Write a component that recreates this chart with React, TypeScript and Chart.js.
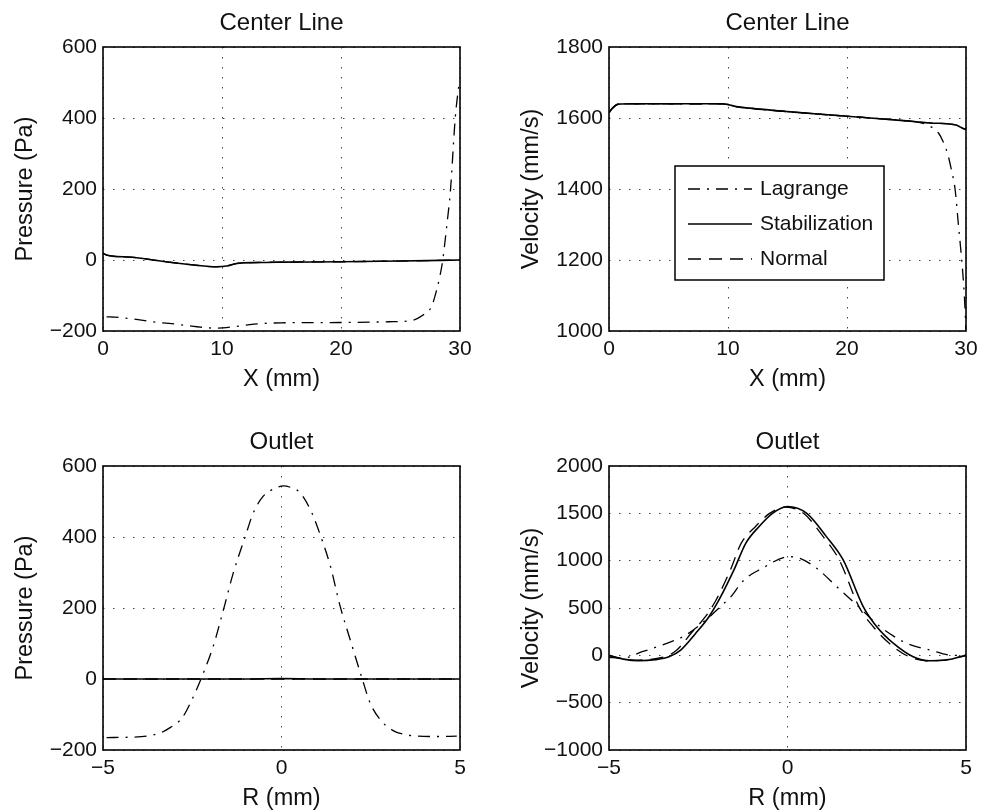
import React, { useEffect, useRef } from 'react';
import { Chart, registerables } from 'chart.js';

Chart.register(...registerables);

const FONT = '"Liberation Sans", Arial, Helvetica, sans-serif';
const INK = '#111';

// ---- tick values ----
const xCenterTicks = [0, 10, 20, 30];
const xOutletTicks = [-5, 0, 5];
const pressureTicks = [-200, 0, 200, 400, 600];
const velCenterTicks = [1000, 1200, 1400, 1600, 1800];
const velOutletTicks = [-1000, -500, 0, 500, 1000, 1500, 2000];

// ---- series names ----
const seriesNames = ['Lagrange', 'Stabilization', 'Normal'];

// ---- Center line pressure (Pa) vs X (mm) ----
const clpLagX = [0.3, 1, 2.5, 4.2, 6.2, 7.9, 9.5, 11, 12.9, 15, 20, 24, 26, 26.9, 27.5, 27.8, 28.3, 28.55, 28.9, 29.2, 29.6, 29.95];
const clpLagY = [-160, -161, -166, -174, -181, -188, -192, -188, -180, -177, -176, -174, -170, -155, -138, -113, -47, 0, 100, 197, 400, 505];
const clpStabX = [0, 0.3, 0.8, 2.5, 5.3, 7.6, 9.5, 10.4, 11.2, 13, 15, 20, 25, 30];
const clpStabY = [19, 14, 11, 7.6, -5, -14, -19, -17, -10, -7, -6, -5, -3, 0];
const clpNormX = [0, 0.3, 0.8, 2.5, 5.3, 7.6, 9.5, 10.4, 11.2, 13, 15, 20, 25, 30];
const clpNormY = [19, 14, 11, 7.6, -5, -14, -19, -17, -10, -7, -6, -5, -3, 0];

// ---- Center line velocity (mm/s) vs X (mm) ----
const clvLagX = [0, 0.3, 0.8, 2, 5, 9.5, 10, 10.7, 12, 15, 20, 25, 26, 26.9, 27.7, 28.1, 28.45, 28.8, 29.08, 29.36, 29.64, 29.86, 30];
const clvLagY = [1615, 1628, 1639, 1640, 1640, 1640, 1638, 1632, 1627, 1618, 1605, 1592, 1588, 1578, 1557, 1532, 1500, 1450, 1400, 1300, 1200, 1100, 1000];
const clvStabX = [0, 0.3, 0.8, 2, 5, 9.5, 10, 10.7, 12, 15, 20, 25, 27, 29.2, 29.5, 29.8, 30];
const clvStabY = [1615, 1628, 1639, 1640, 1640, 1640, 1638, 1632, 1627, 1618, 1605, 1592, 1586, 1580, 1575, 1570, 1568];
const clvNormX = [0, 0.3, 0.8, 2, 5, 9.5, 10, 10.7, 12, 15, 20, 25, 27, 29.2, 29.5, 29.8, 30];
const clvNormY = [1615, 1628, 1639, 1640, 1640, 1640, 1638, 1632, 1627, 1618, 1605, 1592, 1586, 1580, 1575, 1570, 1568];

// ---- Outlet pressure (Pa) vs R (mm) ----
const olpLagX = [-4.9, -4.3, -3.78, -3.4, -3.12, -2.78, -2.55, -2.24, -1.91, -1.61, -1.35, -1.02, -0.79, -0.51, -0.13, 0.05, 0.3, 0.52, 0.85, 1.13, 1.37, 1.64, 1.92, 2.25, 2.48, 2.76, 3.14, 3.5, 3.79, 4.3, 4.91];
const olpLagY = [-165, -164, -161, -152, -137, -109, -67, 4, 93, 201, 299, 400, 468, 515, 539, 544, 538, 525, 468, 393, 318, 206, 112, 4, -67, -114, -146, -157, -161, -162, -161];
const olpStabX = [-5, -4, -3, -2, -1, 0, 1, 2, 3, 4, 5];
const olpStabY = [0, 0, 0, 0, 0, 1, 0, 0, 0, 0, 0];
const olpNormX = [-5, -4, -3, -2, -1, 0, 1, 2, 3, 4, 5];
const olpNormY = [0, 0, 0, 0, 0, 0, 0, 0, 0, 0, 0];

// ---- Outlet velocity (mm/s) vs R (mm) ----
const olvLagX = [-5, -4.63, -4.07, -3.51, -2.85, -2.15, -1.83, -1.61, -1.22, -0.71, 0.04, 0.35, 0.82, 1.38, 1.94, 2.59, 3.34, 3.99, 4.64, 5];
const olvLagY = [-20, -32, 38, 109, 214, 419, 532, 609, 796, 919, 1042, 1024, 919, 725, 532, 303, 127, 56, 0, 0];
const olvStabX = [-5, -4.6, -4.16, -3.7, -3.32, -2.99, -2.57, -2.2, -1.92, -1.5, -1.17, -0.8, -0.42, 0, 0.54, 1.09, 1.56, 2.12, 2.5, 2.97, 3.52, 3.99, 4.46, 5];
const olvStabY = [0, -40, -57, -45, -15, 56, 233, 408, 585, 902, 1183, 1359, 1500, 1572, 1500, 1254, 1008, 515, 303, 127, -14, -57, -50, 0];
const olvNormX = [-5, -4.6, -4.2, -3.8, -3.4, -3.1, -2.7, -2.3, -2.0, -1.6, -1.3, -0.9, -0.5, -0.05, 0.45, 1.0, 1.45, 2.0, 2.4, 2.85, 3.4, 3.9, 4.4, 5];
const olvNormY = [0, -35, -50, -40, -10, 56, 233, 408, 585, 902, 1183, 1359, 1500, 1565, 1500, 1254, 1008, 515, 303, 127, -14, -57, -50, 0];

// ---- styles ----
const dashes = [[12, 7, 2, 7], [], [13, 8]];
const widths = [1.3, 1.6, 1.3];

const pts = (xs: number[], ys: number[]) => xs.map((x, i) => ({ x, y: ys[i] }));
const fmt = (v: any) => String(v).replace('-', '\u2212');

const boxPlugin = {
  id: 'mbox',
  afterDatasetsDraw(chart: any) {
    const { ctx, chartArea: a } = chart;
    ctx.save();
    ctx.strokeStyle = '#000';
    ctx.lineWidth = 1.6;
    ctx.setLineDash([]);
    ctx.strokeRect(a.left, a.top, a.right - a.left, a.bottom - a.top);
    ctx.restore();
  },
};

const legendPlugin = {
  id: 'mlegend',
  afterDraw(chart: any, _args: any, opts: any) {
    if (!opts || !opts.show) return;
    const { ctx, chartArea: a } = chart;
    const x0 = a.left + opts.dx;
    const y0 = a.top + opts.dy;
    ctx.save();
    ctx.fillStyle = '#fff';
    ctx.fillRect(x0, y0, opts.w, opts.h);
    ctx.strokeStyle = '#000';
    ctx.lineWidth = 1.5;
    ctx.setLineDash([]);
    ctx.strokeRect(x0, y0, opts.w, opts.h);
    chart.data.datasets.forEach((ds: any, i: number) => {
      const y = y0 + opts.first + i * opts.step;
      ctx.setLineDash(ds.borderDash || []);
      ctx.lineWidth = ds.borderWidth;
      ctx.strokeStyle = ds.borderColor;
      ctx.beginPath();
      ctx.moveTo(x0 + 13, y);
      ctx.lineTo(x0 + 77, y);
      ctx.stroke();
      ctx.setLineDash([]);
      ctx.fillStyle = INK;
      ctx.font = `21px ${FONT}`;
      ctx.textBaseline = 'middle';
      ctx.textAlign = 'left';
      ctx.fillText(ds.label, x0 + 85, y);
    });
    ctx.restore();
  },
};

type Spec = {
  title: string;
  xLabel: string;
  yLabel: string;
  xTicks: number[];
  yTicks: number[];
  series: { x: number[]; y: number[] }[];
  legend?: boolean;
};

function axis(ticks: number[], label: string, horizontal: boolean) {
  return {
    type: 'linear',
    min: ticks[0],
    max: ticks[ticks.length - 1],
    afterBuildTicks: (s: any) => {
      s.ticks = ticks.map((v) => ({ value: v }));
    },
    afterFit: (s: any) => {
      if (horizontal) s.height = 75;
      else s.width = 103;
    },
    grid: { color: '#444', lineWidth: 1, drawTicks: false },
    border: { display: false, dash: [1.5, 8.5] },
    ticks: {
      padding: 6,
      color: INK,
      font: { family: FONT, size: 21 },
      maxRotation: 0,
      autoSkip: false,
      callback: (v: any) => fmt(v),
    },
    title: {
      display: true,
      text: label,
      color: INK,
      font: { family: FONT, size: 23.5 },
      padding: horizontal ? { top: 0, bottom: 12 } : { top: 11, bottom: 0 },
    },
  };
}

function makeConfig(p: Spec): any {
  return {
    type: 'scatter',
    data: {
      datasets: p.series.map((s, i) => ({
        label: seriesNames[i],
        data: pts(s.x, s.y),
        showLine: true,
        borderColor: '#000',
        backgroundColor: '#000',
        borderWidth: widths[i],
        borderDash: dashes[i],
        pointRadius: 0,
        cubicInterpolationMode: 'monotone',
      })),
    },
    options: {
      responsive: false,
      animation: false,
      devicePixelRatio: 1,
      layout: { padding: { left: 0, top: 0, right: 35, bottom: 0 } },
      plugins: {
        legend: { display: false },
        tooltip: { enabled: false },
        title: {
          display: true,
          text: p.title,
          fullSize: false,
          color: INK,
          font: { family: FONT, size: 24, weight: 'normal' },
          padding: { top: 8.6, bottom: 9.6 },
        },
        mlegend: { show: !!p.legend, dx: 66, dy: 119, w: 209, h: 114, first: 23, step: 35 },
      },
      scales: {
        x: axis(p.xTicks, p.xLabel, true),
        y: axis(p.yTicks, p.yLabel, false),
      },
    },
    plugins: [boxPlugin, legendPlugin],
  };
}

const panels: { spec: Spec; left: number; top: number }[] = [
  {
    left: 0,
    top: 0,
    spec: {
      title: 'Center Line',
      xLabel: 'X (mm)',
      yLabel: 'Pressure (Pa)',
      xTicks: xCenterTicks,
      yTicks: pressureTicks,
      series: [
        { x: clpLagX, y: clpLagY },
        { x: clpStabX, y: clpStabY },
        { x: clpNormX, y: clpNormY },
      ],
    },
  },
  {
    left: 506,
    top: 0,
    spec: {
      title: 'Center Line',
      xLabel: 'X (mm)',
      yLabel: 'Velocity (mm/s)',
      xTicks: xCenterTicks,
      yTicks: velCenterTicks,
      legend: true,
      series: [
        { x: clvLagX, y: clvLagY },
        { x: clvStabX, y: clvStabY },
        { x: clvNormX, y: clvNormY },
      ],
    },
  },
  {
    left: 0,
    top: 419,
    spec: {
      title: 'Outlet',
      xLabel: 'R (mm)',
      yLabel: 'Pressure (Pa)',
      xTicks: xOutletTicks,
      yTicks: pressureTicks,
      series: [
        { x: olpLagX, y: olpLagY },
        { x: olpStabX, y: olpStabY },
        { x: olpNormX, y: olpNormY },
      ],
    },
  },
  {
    left: 506,
    top: 419,
    spec: {
      title: 'Outlet',
      xLabel: 'R (mm)',
      yLabel: 'Velocity (mm/s)',
      xTicks: xOutletTicks,
      yTicks: velOutletTicks,
      series: [
        { x: olvLagX, y: olvLagY },
        { x: olvStabX, y: olvStabY },
        { x: olvNormX, y: olvNormY },
      ],
    },
  },
];

function Panel({ spec, left, top }: { spec: Spec; left: number; top: number }) {
  const ref = useRef<HTMLCanvasElement | null>(null);
  useEffect(() => {
    if (!ref.current) return;
    const chart = new Chart(ref.current, makeConfig(spec));
    return () => chart.destroy();
  }, [spec]);
  return (
    <div style={{ position: 'absolute', left, top, width: 495, height: 406 }}>
      <canvas ref={ref} width={495} height={406} style={{ display: 'block', width: 495, height: 406 }} />
    </div>
  );
}

export default function App() {
  return (
    <div
      style={{
        position: 'fixed',
        left: 0,
        top: 0,
        width: 990,
        height: 812,
        overflow: 'hidden',
        background: '#fff',
      }}
    >
      {panels.map((p, i) => (
        <Panel key={i} spec={p.spec} left={p.left} top={p.top} />
      ))}
    </div>
  );
}
